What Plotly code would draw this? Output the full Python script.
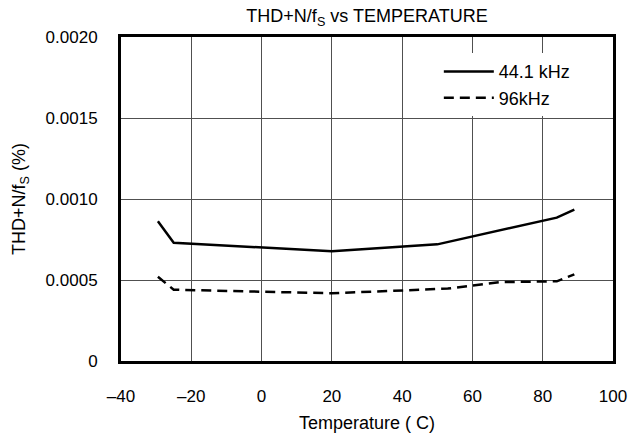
import plotly.graph_objects as go

temp_441 = [-29.5, -25, 20, 50, 84, 89]
thd_441 = [0.000863, 0.00073, 0.000677, 0.00072, 0.000885, 0.000935]

temp_96 = [-29.5, -25, 20, 53, 68, 84, 89]
thd_96 = [0.00052, 0.00044, 0.000418, 0.000447, 0.000487, 0.000492, 0.000535]

x_ticks = [-40, -20, 0, 20, 40, 60, 80, 100]
x_ticktext = ["\u201340", "\u201320", "0", "20", "40", "60", "80", "100"]
y_ticks = [0, 0.0005, 0.0010, 0.0015, 0.0020]
y_ticktext = ["0", "0.0005", "0.0010", "0.0015", "0.0020"]

FONT = "Liberation Sans, Arial, Helvetica, sans-serif"

fig = go.Figure()
fig.add_trace(go.Scatter(x=temp_441, y=thd_441, mode="lines", name="44.1 kHz",
                         line=dict(color="black", width=2.5)))
fig.add_trace(go.Scatter(x=temp_96, y=thd_96, mode="lines", name="96kHz",
                         line=dict(color="black", width=2.5, dash="10px,6px")))

fig.update_layout(
    width=639, height=442,
    margin=dict(l=121, r=24, t=37, b=70),
    paper_bgcolor="white", plot_bgcolor="white",
    font=dict(family=FONT, size=17, color="black"),
    title=dict(text="THD+N/f<sub>S</sub> vs TEMPERATURE", x=0.5, xref="paper",
               y=0.964, yref="container", yanchor="middle", xanchor="center",
               font=dict(size=18)),
    showlegend=True,
    legend=dict(x=0.646, y=0.95, xanchor="left", yanchor="top",
                bgcolor="white", borderwidth=0, font=dict(size=18),
                traceorder="normal", itemwidth=50),
)
fig.update_xaxes(range=[-40, 100], tickvals=x_ticks, ticktext=x_ticktext,
                 showgrid=True, gridcolor="#505050", gridwidth=1,
                 showline=True, linecolor="black", linewidth=3, mirror=True,
                 ticks="", ticklabelstandoff=18, zeroline=False,
                 title=dict(text="Temperature ( C)", standoff=11, font=dict(size=18)))
fig.update_yaxes(range=[0, 0.002], tickvals=y_ticks, ticktext=y_ticktext,
                 showgrid=True, gridcolor="#505050", gridwidth=1,
                 showline=True, linecolor="black", linewidth=3, mirror=True,
                 ticks="", ticklabelstandoff=17, zeroline=False,
                 title=dict(text="THD+N/f<sub>S</sub> (%)", standoff=16, font=dict(size=18)))

fig.write_html("out.html")
